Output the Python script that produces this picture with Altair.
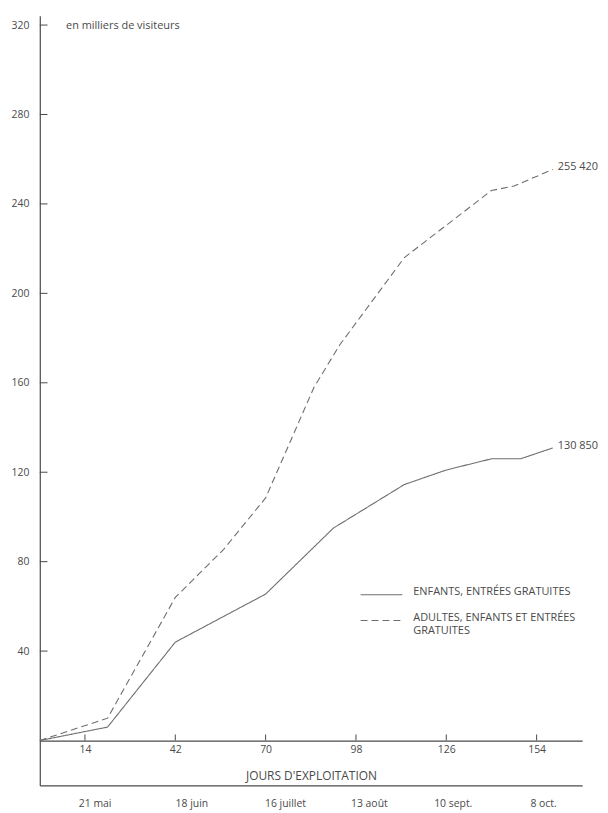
import altair as alt
import pandas as pd

# ---- data (thousands of visitors) ----
days_total = [0, 21, 42, 57, 70, 85, 93, 113, 140, 147, 159]
vals_total = [0, 10, 64, 85.5, 108.5, 158, 177, 216, 246, 248, 255.42]
days_enf = [0, 21, 42, 70, 91, 113, 126, 140, 149, 159]
vals_enf = [0, 6, 44, 65.5, 95, 114.5, 121, 126, 126, 130.85]
series_names = ["ENFANTS, ENTRÉES GRATUITES", "ADULTES, ENFANTS ET ENTRÉES|GRATUITES"]
end_labels = ["130 850", "255 420"]
end_values = [130.85, 255.42]
end_days = [159, 159]
day_ticks = [14, 42, 70, 98, 126, 154]
date_pos = [17, 47, 76, 102, 128, 156]
date_labels = ["21 mai", "18 juin", "16 juillet", "13 août", "10 sept.", "8 oct."]
y_ticks = [40, 80, 120, 160, 200, 240, 280, 320]

FONT = "Open Sans"
INK = "#4a4a4a"
LINE = "#6e6e6e"
FS = 10.5
FS_CAPS = 11

W, H = 546, 775
xscale = alt.Scale(domain=[0, 168.1], nice=False, zero=False)
yscale = alt.Scale(domain=[-20.1, 324.2], nice=False, zero=False)

rows = []
for d, v in zip(days_enf, vals_enf):
    rows.append({"jour": d, "valeur": v, "serie": series_names[0]})
for d, v in zip(days_total, vals_total):
    rows.append({"jour": d, "valeur": v, "serie": series_names[1]})
lines_df = pd.DataFrame(rows)

lines = alt.Chart(lines_df).mark_line(color=LINE, strokeWidth=1.1).encode(
    x=alt.X("jour:Q", scale=xscale,
            axis=alt.Axis(orient="bottom", offset=-45.2, values=day_ticks, ticks=False,
                          domain=True, labelPadding=4, grid=False,
                          title="JOURS D'EXPLOITATION", titleY=35, titleBaseline="middle",
                          titleFontSize=12)),
    y=alt.Y("valeur:Q", scale=yscale,
            axis=alt.Axis(orient="left", values=y_ticks, ticks=False, labelPadding=11, grid=False,
                          domain=True,
                          title="en milliers de visiteurs", titleAngle=0, titleX=26, titleY=10,
                          titleAlign="left", titleBaseline="middle", titleFontSize=11)),
    strokeDash=alt.StrokeDash("serie:N",
                              scale=alt.Scale(domain=series_names, range=[[1, 0], [7, 4]]),
                              legend=alt.Legend(title=None, orient="none", legendX=322, legendY=576,
                                                symbolType="stroke", symbolSize=1764,
                                                symbolStrokeWidth=1.1, symbolStrokeColor=LINE,
                                                labelExpr="split(datum.label, '|')",
                                                labelFont=FONT, labelFontSize=FS_CAPS, labelColor=INK,
                                                labelOffset=10, labelLimit=400, clipHeight=14,
                                                rowPadding=10, labelBaseline="alphabetic")),
    order="jour:Q",
)

date_expr = "".join(f"datum.value == {p} ? '{l}' : " for p, l in zip(date_pos, date_labels)) + "''"

xt_df = pd.DataFrame({"jour": day_ticks, "y0": [0] * len(day_ticks), "y1": [2.7] * len(day_ticks)})
xticks = alt.Chart(xt_df).mark_rule(color=INK, strokeWidth=1).encode(
    x=alt.X("jour:Q", scale=xscale,
            axis=alt.Axis(orient="bottom", offset=0, values=date_pos, labelExpr=date_expr,
                          ticks=False, domain=True, title=None, labelPadding=13, grid=False)),
    y=alt.Y("y0:Q", scale=yscale, axis=None),
    y2="y1:Q",
)

yt_df = pd.DataFrame({"valeur": y_ticks, "x0": [0] * len(y_ticks), "x1": [2.4] * len(y_ticks)})
yticks = alt.Chart(yt_df).mark_rule(color=INK, strokeWidth=1).encode(
    y=alt.Y("valeur:Q", scale=yscale, axis=None),
    x=alt.X("x0:Q", scale=xscale, axis=None),
    x2="x1:Q",
)

end_df = pd.DataFrame({"jour": end_days, "valeur": end_values, "label": end_labels})
ends = alt.Chart(end_df).mark_text(align="left", dx=5, dy=-2, font=FONT, fontSize=11, color=INK).encode(
    x=alt.X("jour:Q", scale=xscale, axis=None),
    y=alt.Y("valeur:Q", scale=yscale, axis=None),
    text="label:N",
)

chart = (
    alt.layer(lines, xticks, yticks, ends)
    .resolve_axis(x="independent", y="independent")
    .properties(width=W, height=H,
                padding={"left": 32, "top": 5, "right": 18, "bottom": 23},
                autosize=alt.AutoSizeParams(type="none"))
    .configure(background="white", style={"guide-label": {"lineHeight": 13.5}})
    .configure_view(stroke=None)
    .configure_axis(labelFont=FONT, titleFont=FONT, labelFontSize=FS, titleFontSize=FS,
                    labelColor=INK, titleColor=INK, domainColor=INK, domainWidth=1.2,
                    titleFontWeight="normal")
)

chart.save("out.html", embed_options={"renderer": "svg", "actions": False})
